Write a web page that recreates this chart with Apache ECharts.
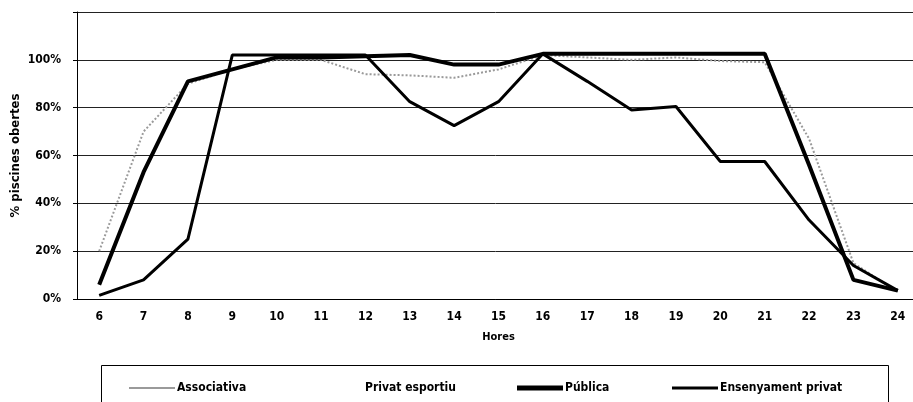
<!DOCTYPE html>
<html>
<head>
<meta charset="utf-8">
<script src="https://cdn.jsdelivr.net/npm/echarts@6/dist/echarts.min.js"></script>
<style>
  html, body { margin: 0; padding: 0; background: #fff; }
  #chart { width: 913px; height: 402px; }
</style>
</head>
<body>
<div id="chart"></div>
<script>
const hours = ['6', '7', '8', '9', '10', '11', '12', '13', '14', '15', '16', '17', '18', '19', '20', '21', '22', '23', '24']
// % piscines obertes per hora
const associativa = [20, 70, 90, 96, 100, 100, 94, 93.5, 92.5, 96, 102, 101, 100, 101, 99.5, 99, 67, 15, 3]
const privatEsportiu = []  // line did not survive the scan
const publica = [6, 53, 91, 96, 101, 101, 101.5, 102, 98, 98, 102.5, 102.5, 102.5, 102.5, 102.5, 102.5, 56, 8, 3.5]
const ensenyament = [1.5, 8, 25, 102, 102, 102, 102, 82.5, 72.5, 82.5, 102.5, 91, 79, 80.5, 57.5, 57.5, 33, 14, 3.5]
const yTicks = [0, 20, 40, 60, 80, 100, 120]

const FONT = "'DejaVu Sans Condensed', 'Liberation Sans Narrow', sans-serif"

const chart = echarts.init(document.getElementById('chart'))

// one legend per item, Excel spaced them unevenly
const legendItem = (name, left, thick, color) => ({
  data: [name],
  left: left,
  top: 377,
  icon: 'rect',
  itemWidth: 46,
  itemHeight: thick,
  itemGap: 0,
  itemStyle: { color: color, borderWidth: 0 },
  textStyle: { fontFamily: FONT, fontWeight: 'bold', fontSize: 12, color: '#000', padding: [0, 0, 0, -3] }
})

const option = {
  animation: false,
  backgroundColor: '#fff',
  // plot area runs past the right edge of the scan
  grid: { left: 77, top: 12, width: 843, bottom: 103, outerBoundsMode: 'none', containLabel: false },
  legend: [
    legendItem('Associativa', 124, 2, '#9a9a9a'),
    legendItem('Privat esportiu', 312, 2, '#fff'),
    legendItem('Pública', 512, 5, '#000'),
    legendItem('Ensenyament privat', 667, 3, '#000')
  ],
  graphic: [{
    type: 'rect',
    shape: { x: 101.5, y: 365.5, width: 787, height: 50 },
    style: { fill: 'none', stroke: '#000', lineWidth: 1 },
    silent: true
  }],
  xAxis: {
    type: 'category',
    data: hours,
    boundaryGap: true,
    name: 'Hores',
    nameLocation: 'middle',
    nameGap: 33,
    nameMoveOverlap: false,
    nameTextStyle: { fontFamily: FONT, fontWeight: 'bold', fontSize: 11, color: '#000' },
    axisLine: { lineStyle: { color: '#000', width: 1 } },
    axisTick: { length: 4, lineStyle: { color: '#000' } },
    axisLabel: { margin: 12, fontFamily: FONT, fontWeight: 'bold', fontSize: 12, color: '#000' }
  },
  yAxis: {
    type: 'value',
    min: 0,
    max: 120,
    interval: 20,
    name: '% piscines obertes',
    nameLocation: 'middle',
    nameGap: 55,
    nameMoveOverlap: false,
    nameRotate: 90,
    nameTextStyle: { fontFamily: FONT, fontWeight: 'bold', fontSize: 13, color: '#000' },
    axisLine: { show: true, lineStyle: { color: '#000', width: 1 } },
    axisTick: { show: true, length: 4, lineStyle: { color: '#000' } },
    splitLine: { lineStyle: { color: '#222', width: 1 } },
    axisLabel: {
      margin: 16,
      fontFamily: FONT, fontWeight: 'bold', fontSize: 12, color: '#000',
      formatter: v => (yTicks.indexOf(v) >= 0 && v < 120) ? v + '%' : ''
    }
  },
  series: [
    {
      name: 'Associativa', type: 'line', data: associativa,
      symbol: 'none', color: '#9a9a9a',
      lineStyle: { width: 2, type: 'dotted', color: '#9a9a9a' }
    },
    {
      name: 'Privat esportiu', type: 'line', data: privatEsportiu,
      symbol: 'none', color: '#fff',
      lineStyle: { width: 2, color: '#fff' }
    },
    {
      name: 'Pública', type: 'line', data: publica,
      symbol: 'none', color: '#000',
      lineStyle: { width: 4, color: '#000' }
    },
    {
      name: 'Ensenyament privat', type: 'line', data: ensenyament,
      symbol: 'none', color: '#000',
      lineStyle: { width: 3, color: '#000' }
    }
  ]
}

chart.setOption(option)
</script>
</body>
</html>
